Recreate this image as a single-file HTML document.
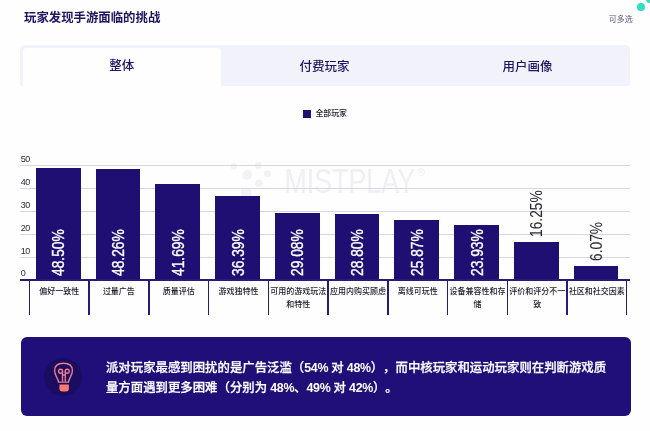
<!DOCTYPE html>
<html lang="zh-CN"><head><meta charset="utf-8"><title>玩家发现手游面临的挑战</title>
<style>
html,body{margin:0;padding:0;}
body{width:650px;height:431px;overflow:hidden;background:#fefeff;position:relative;font-family:"Liberation Sans","Noto Sans CJK SC",sans-serif;color:#1f1464;}
.abs{position:absolute;}
.title{position:absolute;left:24px;top:9px;font-size:12.4px;font-weight:bold;line-height:18px;color:#1e1560;white-space:nowrap;}
.multi{position:absolute;left:608.7px;top:13.8px;font-size:8px;line-height:12px;color:#5b5a7a;white-space:nowrap;}
.dot1{position:absolute;left:637px;top:3.3px;width:7.6px;height:7.6px;border-radius:50%;background:#2fe0c0;}
.dot2{position:absolute;left:646px;top:-4px;width:8px;height:7px;border-radius:50%;background:#2fe0c0;}
.tabs{position:absolute;left:20px;top:45px;width:610px;height:41px;background:#f2f2fa;border-radius:5px 5px 0 0;}
.tab{position:absolute;top:0;height:41px;line-height:44.6px;text-align:center;font-size:12.5px;font-weight:500;color:#1f1464;width:203px;}
.tab.act{left:2.5px;top:2.5px;width:198.5px;height:38.5px;line-height:37px;background:#fefeff;border-radius:4px 4px 0 0;}
.lgsq{position:absolute;left:303px;top:110px;width:8px;height:8px;background:#1f1074;}
.lgtx{position:absolute;left:315.4px;top:107.8px;font-size:7.9px;font-weight:500;line-height:12px;color:#1c1c28;white-space:nowrap;}
.grid{position:absolute;left:20px;width:610px;height:1px;background:#d6d6e8;}
.yl{position:absolute;left:20.7px;letter-spacing:-0.4px;font-size:9px;line-height:10px;color:#2a2a3a;}
.bar{position:absolute;width:44.8px;background:#200f72;}
.axis{position:absolute;left:20px;top:279.2px;width:609.5px;height:2.2px;background:#2a1a78;}
.tick{position:absolute;top:280.0px;width:1.5px;height:35px;background:#2a1a78;}
.cat{position:absolute;top:285px;width:59.75px;text-align:center;font-size:8px;line-height:13.2px;color:#1c1c28;font-weight:500;white-space:nowrap;}
.val{position:absolute;width:0;height:0;font-size:15.6px;white-space:nowrap;-webkit-text-stroke:0.35px currentColor;}
.val span{}
.val.in{color:#fff;}
.val.out{color:#2b2b33;-webkit-text-stroke:0.1px currentColor;}
.val::before{}
.val{transform:translateX(0.6px) rotate(-90deg) scaleX(0.885);transform-origin:0 0;line-height:0;}
.box{position:absolute;left:21.4px;top:337px;width:609.9px;height:78.8px;background:#200f78;border-radius:6px;}
.ic{position:absolute;left:23.1px;top:20.9px;width:38px;height:38px;border-radius:50%;background:#1a0c5e;}
.btx{text-spacing-trim:space-all;position:absolute;left:84.6px;top:20.55px;font-size:12.4px;font-weight:500;-webkit-text-stroke:0.25px #fff;line-height:20.5px;color:#fff;white-space:nowrap;}
.btx i{font-style:normal;font-weight:bold;letter-spacing:-0.3px;-webkit-text-stroke:0;}
.wm{position:absolute;left:228px;top:158px;}
</style></head><body>
<div class="title">玩家发现手游面临的挑战</div>
<div class="multi">可多选</div>
<div class="dot1"></div><div class="dot2"></div>
<div class="tabs">
<div class="tab act">整体</div>
<div class="tab" style="left:203px">付费玩家</div>
<div class="tab" style="left:406px">用户画像</div>
</div>
<div class="lgsq"></div><div class="lgtx">全部玩家</div>
<svg class="wm" width="210" height="42" viewBox="0 0 210 42">
<g fill="#efeff4">
<g fill="#f1f1f6"><circle cx="5.8" cy="8.3" r="3.2"/><circle cx="30.4" cy="7.2" r="3.4"/><circle cx="19.1" cy="16.9" r="4.8"/><circle cx="39.5" cy="15.6" r="3.4"/><circle cx="30.9" cy="25.2" r="3.8"/><circle cx="18" cy="35.2" r="5.6"/></g>
<text x="56.5" y="34.7" font-family="Liberation Sans, sans-serif" font-size="35" textLength="130.5" lengthAdjust="spacingAndGlyphs">MISTPLAY</text>
<text x="189" y="18.3" font-family="Liberation Sans, sans-serif" font-size="11">®</text>
</g></svg>
<div class="grid" style="top:256.6px"></div>
<div class="grid" style="top:233.7px"></div>
<div class="grid" style="top:210.8px"></div>
<div class="grid" style="top:187.9px"></div>
<div class="grid" style="top:165.0px"></div>

<div class="yl" style="top:268.4px">0</div>
<div class="yl" style="top:245.5px">10</div>
<div class="yl" style="top:222.6px">20</div>
<div class="yl" style="top:199.7px">30</div>
<div class="yl" style="top:176.8px">40</div>
<div class="yl" style="top:153.9px">50</div>

<div class="bar" style="left:35.9px;top:168.4px;height:111.6px"></div>
<div class="val in" style="left:58.3px;top:275.7px">48.50%</div>
<div class="cat" style="left:29.3px">偏好一致性</div>
<div class="bar" style="left:95.6px;top:169.0px;height:111.0px"></div>
<div class="val in" style="left:118.0px;top:275.7px">48.26%</div>
<div class="cat" style="left:89.0px">过量广告</div>
<div class="bar" style="left:155.4px;top:184.0px;height:96.0px"></div>
<div class="val in" style="left:177.8px;top:275.7px">41.69%</div>
<div class="cat" style="left:148.8px">质量评估</div>
<div class="bar" style="left:215.1px;top:196.2px;height:83.8px"></div>
<div class="val in" style="left:237.5px;top:275.7px">36.39%</div>
<div class="cat" style="left:208.6px">游戏独特性</div>
<div class="bar" style="left:274.9px;top:212.9px;height:67.1px"></div>
<div class="val in" style="left:297.3px;top:275.7px">29.08%</div>
<div class="cat" style="left:268.3px">可用的游戏玩法<br>和特性</div>
<div class="bar" style="left:334.6px;top:213.5px;height:66.5px"></div>
<div class="val in" style="left:357.0px;top:275.7px">28.80%</div>
<div class="cat" style="left:328.1px">应用内购买顾虑</div>
<div class="bar" style="left:394.4px;top:220.3px;height:59.7px"></div>
<div class="val in" style="left:416.8px;top:275.7px">25.87%</div>
<div class="cat" style="left:387.8px">离线可玩性</div>
<div class="bar" style="left:454.1px;top:224.7px;height:55.3px"></div>
<div class="val in" style="left:476.5px;top:275.7px">23.93%</div>
<div class="cat" style="left:447.6px">设备兼容性和存<br>储</div>
<div class="bar" style="left:513.9px;top:242.3px;height:37.7px"></div>
<div class="val out" style="left:536.3px;top:237.4px">16.25%</div>
<div class="cat" style="left:507.3px">评价和评分不一<br>致</div>
<div class="bar" style="left:573.6px;top:265.6px;height:14.4px"></div>
<div class="val out" style="left:596.0px;top:260.7px">6.07%</div>
<div class="cat" style="left:567.0px">社区和社交因素</div>

<div class="axis"></div>
<div class="tick" style="left:28.6px"></div>
<div class="tick" style="left:88.3px"></div>
<div class="tick" style="left:148.1px"></div>
<div class="tick" style="left:207.8px"></div>
<div class="tick" style="left:267.6px"></div>
<div class="tick" style="left:327.3px"></div>
<div class="tick" style="left:387.1px"></div>
<div class="tick" style="left:446.8px"></div>
<div class="tick" style="left:506.6px"></div>
<div class="tick" style="left:566.3px"></div>
<div class="tick" style="left:625.8px"></div>

<div class="box">
<div class="ic"><svg width="37.5" height="37.5" viewBox="0 0 37.5 37.5" style="display:block;margin:0.25px"><g fill="none" stroke="#f07c8c" stroke-width="1.35" stroke-linecap="round" stroke-linejoin="round"><path d="M13.5 24.1 C12.9 19.8 9.6 17.6 9.6 12.6 C9.6 7.6 13 5.2 18.5 5.2 C24 5.2 27.4 7.6 27.4 12.6 C27.4 17.6 24.1 19.8 23.5 24.1 Z"/><circle cx="15.6" cy="13.2" r="2"/><circle cx="22.2" cy="13.2" r="2"/><path d="M17.5 13.6 V23 M20.3 13.6 V23 M17.5 17 H20.3"/></g><path d="M14.5 26.4 H23.9 V30.5 a3 3 0 0 1 -3 3 H17.4 a3 3 0 0 1 -3 -3 Z" fill="#fb7a70"/></svg></div>
<div class="btx">派对玩家最感到困扰的是广告泛滥（<i>54% </i>对<i> 48%</i>），而中核玩家和运动玩家则在判断游戏质<br>量方面遇到更多困难（分别为<i> 48%</i>、<i>49% </i>对<i> 42%</i>）。</div>
</div>
</body></html>
